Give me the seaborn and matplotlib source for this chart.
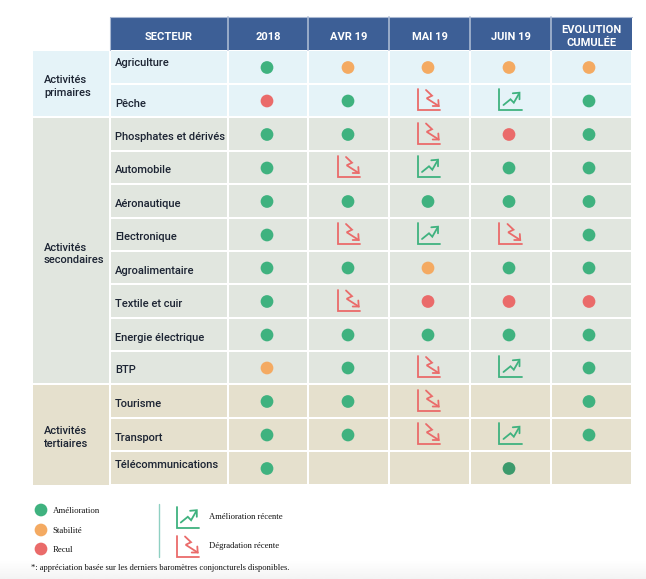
import numpy as np
import pandas as pd
import matplotlib
matplotlib.use("Agg")
import matplotlib.pyplot as plt
from matplotlib.patches import Rectangle
import seaborn as sns

# ---- data
columns = ["2018", "AVR 19", "MAI 19", "JUIN 19", "EVOLUTION\nCUMULÉE"]
sectors = ["Agriculture", "Pêche", "Phosphates et dérivés", "Automobile", "Aéronautique",
           "Electronique", "Agroalimentaire", "Textile et cuir", "Energie électrique",
           "BTP", "Tourisme", "Transport", "Télécommunications"]
groups = ["Activités\nprimaires", "Activités\nsecondaires", "Activités\ntertiaires"]
group_sizes = [2, 8, 3]
status = [
    ["G", "O", "O", "O", "O"],
    ["R", "G", "D", "U", "G"],
    ["G", "G", "D", "R", "G"],
    ["G", "D", "U", "G", "G"],
    ["G", "G", "G", "G", "G"],
    ["G", "D", "U", "D", "G"],
    ["G", "G", "O", "G", "G"],
    ["G", "D", "R", "R", "R"],
    ["G", "G", "G", "G", "G"],
    ["O", "G", "D", "U", "G"],
    ["G", "G", "D", "",  "G"],
    ["G", "G", "D", "U", "G"],
    ["G", "",  "",  "K", ""],
]
legend_dots = ["Amélioration", "Stabilité", "Recul"]
legend_icons = ["Amélioration récente", "Dégradation récente"]
note = "*: appréciation basée sur les derniers baromètres conjoncturels disponibles."

# ---- layout (pixels) and style
col_edges = [110, 228, 308, 389, 470, 551, 632]
row_edges = [50, 84, 117, 151, 184, 218, 251, 284, 318, 351, 384, 418, 451, 485]
dot_x = [267, 348, 428, 509, 589]
icon_x = [267, 349, 429, 510.5, 589]
label_y = [63, 104, 137, 170, 204, 237, 271, 304, 338, 370, 404, 438, 465]
group_label_y = [[80, 93], [248, 260], [431, 444]]
group_left = 33
header_top = 17
HEAD = "#3d5f96"
BG = ["#e5f3f8", "#e1e6df", "#e5e0cd"]
PAL = {"G": "#3fb27f", "O": "#f4aa62", "R": "#ea6b6a", "K": "#3c9a6c"}
UPC, DNC = "#3fb27f", "#ea6b6a"
SANS = "Roboto"
SERIF = "Liberation Serif"
TXT = "#1c2433"

sns.set_theme(style="white")
fig = plt.figure(figsize=(6.46, 5.79), dpi=100)
ax = fig.add_axes([0, 0, 1, 1])
ax.set_xlim(0, 646)
ax.set_ylim(579, 0)
ax.axis("off")

# faint grey fade at the page bottom
grad = np.linspace(1, 0.955, 30)[:, None]
ax.imshow(grad, extent=[0, 646, 579, 560], cmap="gray", vmin=0, vmax=1, aspect="auto", zorder=0)
ax.set_xlim(0, 646)
ax.set_ylim(579, 0)

def rect(x0, y0, x1, y1, c, z=1, ec="none", lw=0):
    ax.add_patch(Rectangle((x0, y0), x1 - x0, y1 - y0, fc=c, ec=ec, lw=lw, zorder=z))

def icon(cx, cy, kind):
    c = UPC if kind == "U" else DNC
    kw = dict(color=c, lw=1.3, solid_capstyle="round", solid_joinstyle="miter", zorder=4)
    ax.plot([cx - 11.2, cx - 11.2, cx + 11.3], [cy - 11.2, cy + 9.8, cy + 9.8], **kw)
    if kind == "U":
        ax.plot(cx + np.array([-7, 0, 3.3, 8.3]), cy + np.array([4.5, -1.2, 2.2, -6.5]), **kw)
        ax.plot(cx + np.array([2.3, 9, 9]), cy + np.array([-7.2, -7.8, -1.2]), **kw)
    else:
        ax.plot(cx + np.array([-3, 3, -2.3, 9.7]), cy + np.array([-10.5, -4.8, -2.2, 5.5]), **kw)
        ax.plot(cx + np.array([9.3, 9.7, 3.7]), cy + np.array([-0.5, 5.5, 5.5]), **kw)

# header
rect(col_edges[0], header_top, col_edges[-1], row_edges[0], HEAD, 2)
for x in col_edges[1:-1]:
    ax.plot([x, x], [header_top, row_edges[0]], color="#a9b8d2", lw=1.2, zorder=3)
ax.plot(col_edges[:1] * 2, [header_top, row_edges[0]], color="#a9b8d2", lw=0.8, zorder=3)
ax.plot([col_edges[0], col_edges[-1]], [header_top, header_top], color="#a9b8d2", lw=0.8, zorder=3)
hfont = dict(color="white", family=SANS, fontweight="bold", ha="center", va="center", zorder=4)
ax.text((col_edges[0] + col_edges[1]) / 2, 37, "SECTEUR", fontsize=8, **hfont)
for j, name in enumerate(columns):
    cx = (col_edges[j + 1] + col_edges[j + 2]) / 2
    if "\n" in name:
        a, b = name.split("\n")
        ax.text(cx, 30, a, fontsize=8, **hfont)
        ax.text(cx, 43, b, fontsize=8, **hfont)
    else:
        ax.text(cx, 37, name, fontsize=8, **hfont)

# body rows
start = 0
row_group = []
for g, n in enumerate(group_sizes):
    y0, y1 = row_edges[start], row_edges[start + n]
    rect(group_left, y0 + 1, col_edges[0] - 1, y1 - 1 if g < 2 else y1, BG[g], 1)
    row_group += [g] * n
    ym = group_label_y[g]
    for t, yy in zip(groups[g].split("\n"), ym):
        ax.text(44, yy, t, fontsize=8, family=SANS, fontweight="medium", color=TXT, va="center", ha="left", zorder=4)
    start += n

for i, s in enumerate(sectors):
    c = BG[row_group[i]]
    y0, y1 = row_edges[i], row_edges[i + 1]
    for j in range(6):
        rect(col_edges[j] + 0.7, y0 + 0.7, col_edges[j + 1] - 0.7, y1 - 0.7, c, 1)
    ax.text(115, label_y[i], s, fontsize=8, family=SANS, fontweight="medium", color=TXT, va="center", ha="left", zorder=4)

# marks
rows_mid = [(row_edges[i] + row_edges[i + 1]) / 2 + 0.5 for i in range(13)]
recs = []
for i, row in enumerate(status):
    for j, v in enumerate(row):
        if v in PAL:
            recs.append({"x": dot_x[j], "y": rows_mid[i], "s": v})
        elif v in ("U", "D"):
            icon(icon_x[j], rows_mid[i] - 0.5, v)
df = pd.DataFrame(recs)
sns.scatterplot(data=df, x="x", y="y", hue="s", palette=PAL, s=84, linewidth=0,
                legend=False, ax=ax, zorder=5)

# legend
ldf = pd.DataFrame({"x": [41, 41, 41], "y": [510, 530, 549], "s": ["G", "O", "R"]})
sns.scatterplot(data=ldf, x="x", y="y", hue="s", palette=PAL, s=84, linewidth=0,
                legend=False, ax=ax, zorder=5)
for t, yy in zip(legend_dots, [511, 531, 550]):
    ax.text(52.5, yy, t, fontsize=6.3, family=SERIF, color="#111111", va="center", ha="left")
ax.plot([159, 159], [504, 557], color="#8fd0c2", lw=1.0, zorder=3)
icon(187.8, 518, "U")
icon(188, 547, "D")
for t, yy in zip(legend_icons, [517, 546]):
    ax.text(209, yy, t, fontsize=6.2, family=SERIF, color="#111111", va="center", ha="left")
ax.text(31, 567.5, note, fontsize=6.1, family=SERIF, color="#111111", va="center", ha="left")
ax.set_xlabel("")
ax.set_ylabel("")
fig.savefig("out.png", dpi=100)
